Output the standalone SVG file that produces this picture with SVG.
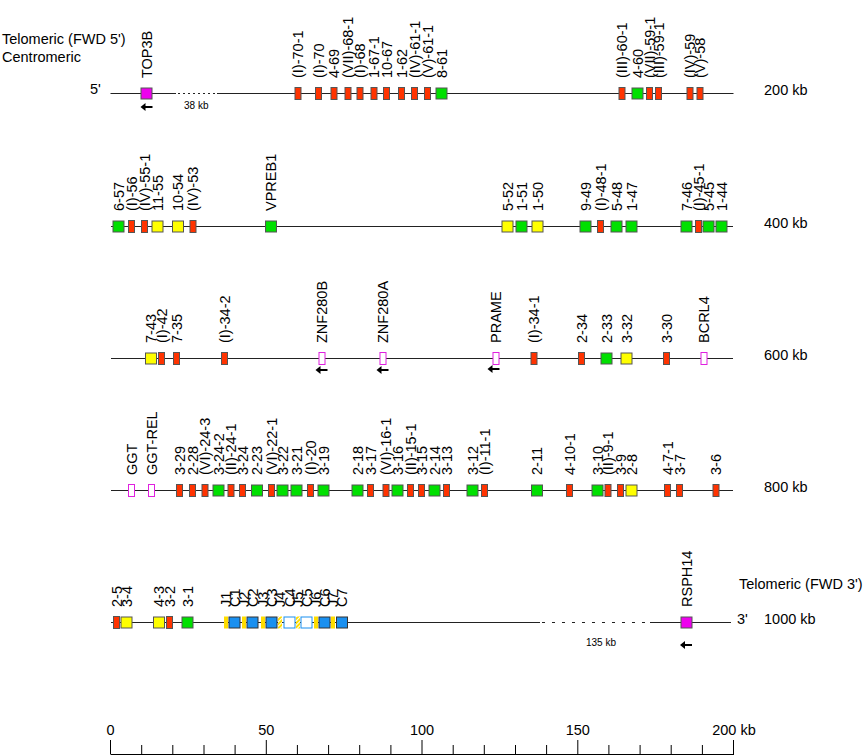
<svg xmlns="http://www.w3.org/2000/svg" width="863" height="756" viewBox="0 0 863 756">
<style>
text{font-family:"Liberation Sans",Arial,sans-serif;fill:#000}
.t{font-size:14.5px}
.s{font-size:10px}
.ln{stroke:#222;stroke-width:1;fill:none}
.r{fill:#ff3300;stroke:#555;stroke-width:1}
.g{fill:#00e000;stroke:#555;stroke-width:1}
.y{fill:#ffff00;stroke:#555;stroke-width:1}
.m{fill:#ee00ee;stroke:#555;stroke-width:1}
.mo{fill:#fff;stroke:#e020e0;stroke-width:1}
.b{fill:#1a90f0;stroke:#333;stroke-width:1}
.bo{fill:#fff;stroke:#1a90f0;stroke-width:1}
.j{fill:#ffdd00}
.jh{fill:url(#hatch)}
.tk{stroke:#000;stroke-width:1}
</style>
<defs>
<pattern id="hatch" width="3" height="3" patternUnits="userSpaceOnUse" patternTransform="rotate(45)">
<rect width="3" height="3" fill="#ffdd00"/>
<rect width="1" height="3" fill="#fff"/>
</pattern>
<g id="arr"><path d="M-6,0 L-1,-4 L-1,4 Z" fill="#000"/><line x1="-2" y1="0" x2="6" y2="0" stroke="#000" stroke-width="2"/></g>
</defs>

<g id="titles">
<text class="t" x="2" y="44">Telomeric (FWD 5')</text>
<text class="t" x="2" y="62">Centromeric</text>
<text class="t" x="90" y="94">5'</text>
<text class="t" x="764" y="95">200 kb</text>
<text class="t" x="764" y="228">400 kb</text>
<text class="t" x="764" y="360">600 kb</text>
<text class="t" x="764" y="492">800 kb</text>
<text class="t" x="739" y="589">Telomeric (FWD 3')</text>
<text class="t" x="737" y="624">3'</text>
<text class="t" x="764" y="624">1000 kb</text>
<text class="s" x="184" y="109">38 kb</text>
<text class="s" x="586" y="646">135 kb</text>
</g>

<g id="connectors">
<line class="ln" x1="110.5" y1="93.5" x2="176" y2="93.5"/>
<line class="ln" x1="178" y1="93.5" x2="217" y2="93.5" stroke-dasharray="2,3"/>
<line class="ln" x1="217" y1="93.5" x2="733.5" y2="93.5"/>
<line class="ln" x1="111" y1="226.5" x2="733" y2="226.5"/>
<line class="ln" x1="111" y1="358.5" x2="733" y2="358.5"/>
<line class="ln" x1="111" y1="490.5" x2="733" y2="490.5"/>
<line class="ln" x1="111" y1="622.5" x2="540" y2="622.5"/>
<line class="ln" x1="542" y1="622.5" x2="650" y2="622.5" stroke-dasharray="3,7"/>
<line class="ln" x1="650" y1="622.5" x2="731" y2="622.5"/>
<use href="#arr" x="146.5" y="107"/>
<use href="#arr" x="321.5" y="370"/>
<use href="#arr" x="382.5" y="370"/>
<use href="#arr" x="493.5" y="369"/>
<use href="#arr" x="686" y="645"/>
</g>

<!-- Row 1 -->
<g id="n-TOP3B"><rect class="m" x="141" y="88" width="11" height="11"/><text class="t" transform="translate(151.5,78) rotate(-90)">TOP3B</text></g>
<g id="n-I-70-1"><rect class="r" x="295" y="87.5" width="6" height="12"/><text class="t" transform="translate(303,78) rotate(-90)">(I)-70-1</text></g>
<g id="n-I-70"><rect class="r" x="315.5" y="87.5" width="6" height="12"/><text class="t" transform="translate(323.5,78) rotate(-90)">(I)-70</text></g>
<g id="n-4-69"><rect class="r" x="331" y="87.5" width="6" height="12"/><text class="t" transform="translate(339,78) rotate(-90)">4-69</text></g>
<g id="n-VII-68-1"><rect class="r" x="345" y="87.5" width="6" height="12"/><text class="t" transform="translate(353,78) rotate(-90)">(VII)-68-1</text></g>
<g id="n-I-68"><rect class="r" x="357" y="87.5" width="6" height="12"/><text class="t" transform="translate(365,78) rotate(-90)">(I)-68</text></g>
<g id="n-1-67-1"><rect class="r" x="371" y="87.5" width="6" height="12"/><text class="t" transform="translate(379,78) rotate(-90)">1-67-1</text></g>
<g id="n-10-67"><rect class="r" x="383.5" y="87.5" width="6" height="12"/><text class="t" transform="translate(391.5,78) rotate(-90)">10-67</text></g>
<g id="n-1-62"><rect class="r" x="398.5" y="87.5" width="6" height="12"/><text class="t" transform="translate(406.5,78) rotate(-90)">1-62</text></g>
<g id="n-IV-61-1"><rect class="r" x="411.5" y="87.5" width="6" height="12"/><text class="t" transform="translate(419.5,78) rotate(-90)">(IV)-61-1</text></g>
<g id="n-V-61-1"><rect class="r" x="424.5" y="87.5" width="6" height="12"/><text class="t" transform="translate(432.5,78) rotate(-90)">(V)-61-1</text></g>
<g id="n-8-61"><rect class="g" x="436" y="88" width="11" height="11"/><text class="t" transform="translate(446.5,78) rotate(-90)">8-61</text></g>
<g id="n-III-60-1"><rect class="r" x="619" y="87.5" width="6" height="12"/><text class="t" transform="translate(627,78) rotate(-90)">(III)-60-1</text></g>
<g id="n-4-60"><rect class="g" x="632" y="88" width="11" height="11"/><text class="t" transform="translate(642.5,78) rotate(-90)">4-60</text></g>
<g id="n-VII-59-1"><rect class="r" x="646.5" y="87.5" width="6" height="12"/><text class="t" transform="translate(654.5,78) rotate(-90)">(VII)-59-1</text></g>
<g id="n-III-59-1"><rect class="r" x="655.5" y="87.5" width="6" height="12"/><text class="t" transform="translate(663.5,78) rotate(-90)">(III)-59-1</text></g>
<g id="n-IV-59"><rect class="r" x="687" y="87.5" width="6" height="12"/><text class="t" transform="translate(695,78) rotate(-90)">(IV)-59</text></g>
<g id="n-V-58"><rect class="r" x="697" y="87.5" width="6" height="12"/><text class="t" transform="translate(705,78) rotate(-90)">(V)-58</text></g>

<!-- Row 2 -->
<g id="n-6-57"><rect class="g" x="113" y="221" width="11" height="11"/><text class="t" transform="translate(123.5,211) rotate(-90)">6-57</text></g>
<g id="n-I-56"><rect class="r" x="128.5" y="220.5" width="6" height="12"/><text class="t" transform="translate(136.5,211) rotate(-90)">(I)-56</text></g>
<g id="n-IV-55-1"><rect class="r" x="141.5" y="220.5" width="6" height="12"/><text class="t" transform="translate(149.5,211) rotate(-90)">(IV)-55-1</text></g>
<g id="n-11-55"><rect class="y" x="152" y="221" width="11" height="11"/><text class="t" transform="translate(162.5,211) rotate(-90)">11-55</text></g>
<g id="n-10-54"><rect class="y" x="172.5" y="221" width="11" height="11"/><text class="t" transform="translate(183,211) rotate(-90)">10-54</text></g>
<g id="n-IV-53"><rect class="r" x="190" y="220.5" width="6" height="12"/><text class="t" transform="translate(198,211) rotate(-90)">(IV)-53</text></g>
<g id="n-VPREB1"><rect class="g" x="265.5" y="221" width="11" height="11"/><text class="t" transform="translate(276,211) rotate(-90)">VPREB1</text></g>
<g id="n-5-52"><rect class="y" x="502" y="221" width="11" height="11"/><text class="t" transform="translate(512.5,211) rotate(-90)">5-52</text></g>
<g id="n-1-51"><rect class="g" x="516" y="221" width="11" height="11"/><text class="t" transform="translate(526.5,211) rotate(-90)">1-51</text></g>
<g id="n-1-50"><rect class="y" x="532" y="221" width="11" height="11"/><text class="t" transform="translate(542.5,211) rotate(-90)">1-50</text></g>
<g id="n-9-49"><rect class="g" x="580" y="221" width="11" height="11"/><text class="t" transform="translate(590.5,211) rotate(-90)">9-49</text></g>
<g id="n-I-48-1"><rect class="r" x="597.5" y="220.5" width="6" height="12"/><text class="t" transform="translate(605.5,211) rotate(-90)">(I)-48-1</text></g>
<g id="n-5-48"><rect class="g" x="611" y="221" width="11" height="11"/><text class="t" transform="translate(621.5,211) rotate(-90)">5-48</text></g>
<g id="n-1-47"><rect class="g" x="626" y="221" width="11" height="11"/><text class="t" transform="translate(636.5,211) rotate(-90)">1-47</text></g>
<g id="n-7-46"><rect class="g" x="681" y="221" width="11" height="11"/><text class="t" transform="translate(691.5,211) rotate(-90)">7-46</text></g>
<g id="n-I-45-1"><rect class="r" x="695.5" y="220.5" width="6" height="12"/><text class="t" transform="translate(703.5,211) rotate(-90)">(I)-45-1</text></g>
<g id="n-5-45"><rect class="g" x="703" y="221" width="11" height="11"/><text class="t" transform="translate(713.5,211) rotate(-90)">5-45</text></g>
<g id="n-1-44"><rect class="g" x="716" y="221" width="11" height="11"/><text class="t" transform="translate(726.5,211) rotate(-90)">1-44</text></g>

<!-- Row 3 -->
<g id="n-7-43"><rect class="y" x="145.5" y="353" width="11" height="11"/><text class="t" transform="translate(156,343) rotate(-90)">7-43</text></g>
<g id="n-I-42"><rect class="r" x="158.5" y="352.5" width="6" height="12"/><text class="t" transform="translate(166.5,343) rotate(-90)">(I)-42</text></g>
<g id="n-7-35"><rect class="r" x="173.5" y="352.5" width="6" height="12"/><text class="t" transform="translate(181.5,343) rotate(-90)">7-35</text></g>
<g id="n-I-34-2"><rect class="r" x="221.5" y="352.5" width="6" height="12"/><text class="t" transform="translate(229.5,343) rotate(-90)">(I)-34-2</text></g>
<g id="n-ZNF280B"><rect class="mo" x="319" y="352.5" width="6" height="12"/><text class="t" transform="translate(327,343) rotate(-90)">ZNF280B</text></g>
<g id="n-ZNF280A"><rect class="mo" x="380" y="352.5" width="6" height="12"/><text class="t" transform="translate(388,343) rotate(-90)">ZNF280A</text></g>
<g id="n-PRAME"><rect class="mo" x="493" y="352.5" width="6" height="12"/><text class="t" transform="translate(501,343) rotate(-90)">PRAME</text></g>
<g id="n-I-34-1"><rect class="r" x="531" y="352.5" width="6" height="12"/><text class="t" transform="translate(539,343) rotate(-90)">(I)-34-1</text></g>
<g id="n-2-34"><rect class="r" x="578.5" y="352.5" width="6" height="12"/><text class="t" transform="translate(586.5,343) rotate(-90)">2-34</text></g>
<g id="n-2-33"><rect class="g" x="601" y="353" width="11" height="11"/><text class="t" transform="translate(611.5,343) rotate(-90)">2-33</text></g>
<g id="n-3-32"><rect class="y" x="621" y="353" width="11" height="11"/><text class="t" transform="translate(631.5,343) rotate(-90)">3-32</text></g>
<g id="n-3-30"><rect class="r" x="663.5" y="352.5" width="6" height="12"/><text class="t" transform="translate(671.5,343) rotate(-90)">3-30</text></g>
<g id="n-BCRL4"><rect class="mo" x="701" y="352.5" width="6" height="12"/><text class="t" transform="translate(709,343) rotate(-90)">BCRL4</text></g>

<!-- Row 4 -->
<g id="n-GGT"><rect class="mo" x="128.5" y="484.5" width="6" height="12"/><text class="t" transform="translate(136.5,475) rotate(-90)">GGT</text></g>
<g id="n-GGT-REL"><rect class="mo" x="148.5" y="484.5" width="6" height="12"/><text class="t" transform="translate(156.5,475) rotate(-90)">GGT-REL</text></g>
<g id="n-3-29"><rect class="r" x="176.5" y="484.5" width="6" height="12"/><text class="t" transform="translate(184.5,475) rotate(-90)">3-29</text></g>
<g id="n-2-28"><rect class="r" x="189.5" y="484.5" width="6" height="12"/><text class="t" transform="translate(197.5,475) rotate(-90)">2-28</text></g>
<g id="n-VI-24-3"><rect class="r" x="202" y="484.5" width="6" height="12"/><text class="t" transform="translate(210,475) rotate(-90)">(VI)-24-3</text></g>
<g id="n-3-24-2"><rect class="g" x="213" y="485" width="11" height="11"/><text class="t" transform="translate(223.5,475) rotate(-90)">3-24-2</text></g>
<g id="n-II-24-1"><rect class="r" x="228" y="484.5" width="6" height="12"/><text class="t" transform="translate(236,475) rotate(-90)">(II)-24-1</text></g>
<g id="n-3-24"><rect class="r" x="239.5" y="484.5" width="6" height="12"/><text class="t" transform="translate(247.5,475) rotate(-90)">3-24</text></g>
<g id="n-2-23"><rect class="g" x="251.5" y="485" width="11" height="11"/><text class="t" transform="translate(262,475) rotate(-90)">2-23</text></g>
<g id="n-VI-22-1"><rect class="r" x="268.5" y="484.5" width="6" height="12"/><text class="t" transform="translate(276.5,475) rotate(-90)">(VI)-22-1</text></g>
<g id="n-3-22"><rect class="g" x="277" y="485" width="11" height="11"/><text class="t" transform="translate(287.5,475) rotate(-90)">3-22</text></g>
<g id="n-3-21"><rect class="g" x="291" y="485" width="11" height="11"/><text class="t" transform="translate(301.5,475) rotate(-90)">3-21</text></g>
<g id="n-I-20"><rect class="r" x="307.5" y="484.5" width="6" height="12"/><text class="t" transform="translate(315.5,475) rotate(-90)">(I)-20</text></g>
<g id="n-3-19"><rect class="g" x="318" y="485" width="11" height="11"/><text class="t" transform="translate(328.5,475) rotate(-90)">3-19</text></g>
<g id="n-2-18"><rect class="g" x="352" y="485" width="11" height="11"/><text class="t" transform="translate(362.5,475) rotate(-90)">2-18</text></g>
<g id="n-3-17"><rect class="r" x="367.5" y="484.5" width="6" height="12"/><text class="t" transform="translate(375.5,475) rotate(-90)">3-17</text></g>
<g id="n-VI-16-1"><rect class="r" x="383" y="484.5" width="6" height="12"/><text class="t" transform="translate(391,475) rotate(-90)">(VI)-16-1</text></g>
<g id="n-3-16"><rect class="g" x="392" y="485" width="11" height="11"/><text class="t" transform="translate(402.5,475) rotate(-90)">3-16</text></g>
<g id="n-II-15-1"><rect class="r" x="407.5" y="484.5" width="6" height="12"/><text class="t" transform="translate(415.5,475) rotate(-90)">(II)-15-1</text></g>
<g id="n-3-15"><rect class="r" x="418.5" y="484.5" width="6" height="12"/><text class="t" transform="translate(426.5,475) rotate(-90)">3-15</text></g>
<g id="n-2-14"><rect class="g" x="429" y="485" width="11" height="11"/><text class="t" transform="translate(439.5,475) rotate(-90)">2-14</text></g>
<g id="n-3-13"><rect class="r" x="443.5" y="484.5" width="6" height="12"/><text class="t" transform="translate(451.5,475) rotate(-90)">3-13</text></g>
<g id="n-3-12"><rect class="g" x="467" y="485" width="11" height="11"/><text class="t" transform="translate(477.5,475) rotate(-90)">3-12</text></g>
<g id="n-I-11-1"><rect class="r" x="481.5" y="484.5" width="6" height="12"/><text class="t" transform="translate(489.5,475) rotate(-90)">(I)-11-1</text></g>
<g id="n-2-11"><rect class="g" x="531.5" y="485" width="11" height="11"/><text class="t" transform="translate(542,475) rotate(-90)">2-11</text></g>
<g id="n-4-10-1"><rect class="r" x="566.5" y="484.5" width="6" height="12"/><text class="t" transform="translate(574.5,475) rotate(-90)">4-10-1</text></g>
<g id="n-3-10"><rect class="g" x="592" y="485" width="11" height="11"/><text class="t" transform="translate(602.5,475) rotate(-90)">3-10</text></g>
<g id="n-II-9-1"><rect class="r" x="605" y="484.5" width="6" height="12"/><text class="t" transform="translate(613,475) rotate(-90)">(II)-9-1</text></g>
<g id="n-3-9"><rect class="r" x="617.5" y="484.5" width="6" height="12"/><text class="t" transform="translate(625.5,475) rotate(-90)">3-9</text></g>
<g id="n-2-8"><rect class="y" x="626" y="485" width="11" height="11"/><text class="t" transform="translate(636.5,475) rotate(-90)">2-8</text></g>
<g id="n-4-7-1"><rect class="r" x="664.5" y="484.5" width="6" height="12"/><text class="t" transform="translate(672.5,475) rotate(-90)">4-7-1</text></g>
<g id="n-3-7"><rect class="r" x="676.5" y="484.5" width="6" height="12"/><text class="t" transform="translate(684.5,475) rotate(-90)">3-7</text></g>
<g id="n-3-6"><rect class="r" x="713" y="484.5" width="6" height="12"/><text class="t" transform="translate(721,475) rotate(-90)">3-6</text></g>

<!-- Row 5 -->
<g id="n-2-5"><rect class="r" x="113.5" y="616.5" width="6" height="12"/><text class="t" transform="translate(121.5,607) rotate(-90)">2-5</text></g>
<g id="n-3-4"><rect class="y" x="121" y="617" width="11" height="11"/><text class="t" transform="translate(131.5,607) rotate(-90)">3-4</text></g>
<g id="n-4-3"><rect class="y" x="153.5" y="617" width="11" height="11"/><text class="t" transform="translate(164,607) rotate(-90)">4-3</text></g>
<g id="n-3-2"><rect class="r" x="166.5" y="616.5" width="6" height="12"/><text class="t" transform="translate(174.5,607) rotate(-90)">3-2</text></g>
<g id="n-3-1"><rect class="g" x="182" y="617" width="11" height="11"/><text class="t" transform="translate(192.5,607) rotate(-90)">3-1</text></g>
<g id="n-J1"><rect class="j" x="224" y="616.5" width="4" height="12"/><text class="t" transform="translate(231,607) rotate(-90)">J1</text></g>
<g id="n-C1"><rect class="b" x="229" y="617" width="11" height="11"/><text class="t" transform="translate(239.5,607) rotate(-90)">C1</text></g>
<g id="n-J2"><rect class="j" x="242" y="616.5" width="4" height="12"/><text class="t" transform="translate(249,607) rotate(-90)">J2</text></g>
<g id="n-C2"><rect class="b" x="247" y="617" width="11" height="11"/><text class="t" transform="translate(257.5,607) rotate(-90)">C2</text></g>
<g id="n-J3"><rect class="j" x="261" y="616.5" width="4" height="12"/><text class="t" transform="translate(268,607) rotate(-90)">J3</text></g>
<g id="n-C3"><rect class="b" x="266" y="617" width="11" height="11"/><text class="t" transform="translate(276.5,607) rotate(-90)">C3</text></g>
<g id="n-J4"><rect class="jh" x="278" y="616.5" width="4" height="12"/><text class="t" transform="translate(285,607) rotate(-90)">J4</text></g>
<g id="n-C4"><rect class="bo" x="284" y="617" width="11" height="11"/><text class="t" transform="translate(294.5,607) rotate(-90)">C4</text></g>
<g id="n-J5"><rect class="jh" x="296" y="616.5" width="4" height="12"/><text class="t" transform="translate(303,607) rotate(-90)">J5</text></g>
<g id="n-C5"><rect class="bo" x="301" y="617" width="11" height="11"/><text class="t" transform="translate(311.5,607) rotate(-90)">C5</text></g>
<g id="n-J6"><rect class="j" x="314" y="616.5" width="4" height="12"/><text class="t" transform="translate(321,607) rotate(-90)">J6</text></g>
<g id="n-C6"><rect class="b" x="319" y="617" width="11" height="11"/><text class="t" transform="translate(329.5,607) rotate(-90)">C6</text></g>
<g id="n-J7"><rect class="j" x="331" y="616.5" width="4" height="12"/><text class="t" transform="translate(338,607) rotate(-90)">J7</text></g>
<g id="n-C7"><rect class="b" x="336.5" y="617" width="11" height="11"/><text class="t" transform="translate(347,607) rotate(-90)">C7</text></g>
<g id="n-RSPH14"><rect class="m" x="681" y="617" width="11" height="11"/><text class="t" transform="translate(691.5,607) rotate(-90)">RSPH14</text></g>

<!-- Scale axis -->
<g id="axis">
<line class="tk" x1="110.5" y1="754.5" x2="734" y2="754.5"/>
<path class="tk" d="M110.5,740V754 M141.7,745V754 M172.8,745V754 M204,745V754 M235.1,745V754 M266.3,740V754 M297.4,745V754 M328.6,745V754 M359.7,745V754 M390.9,745V754 M422,740V754 M453.2,745V754 M484.3,745V754 M515.5,745V754 M546.6,745V754 M577.8,740V754 M608.9,745V754 M640.1,745V754 M671.2,745V754 M702.4,745V754 M733.5,740V754"/>
<text class="t" x="110.5" y="735" text-anchor="middle">0</text>
<text class="t" x="266.3" y="735" text-anchor="middle">50</text>
<text class="t" x="422" y="735" text-anchor="middle">100</text>
<text class="t" x="577.8" y="735" text-anchor="middle">150</text>
<text class="t" x="734" y="735" text-anchor="middle">200 kb</text>
</g>
</svg>
